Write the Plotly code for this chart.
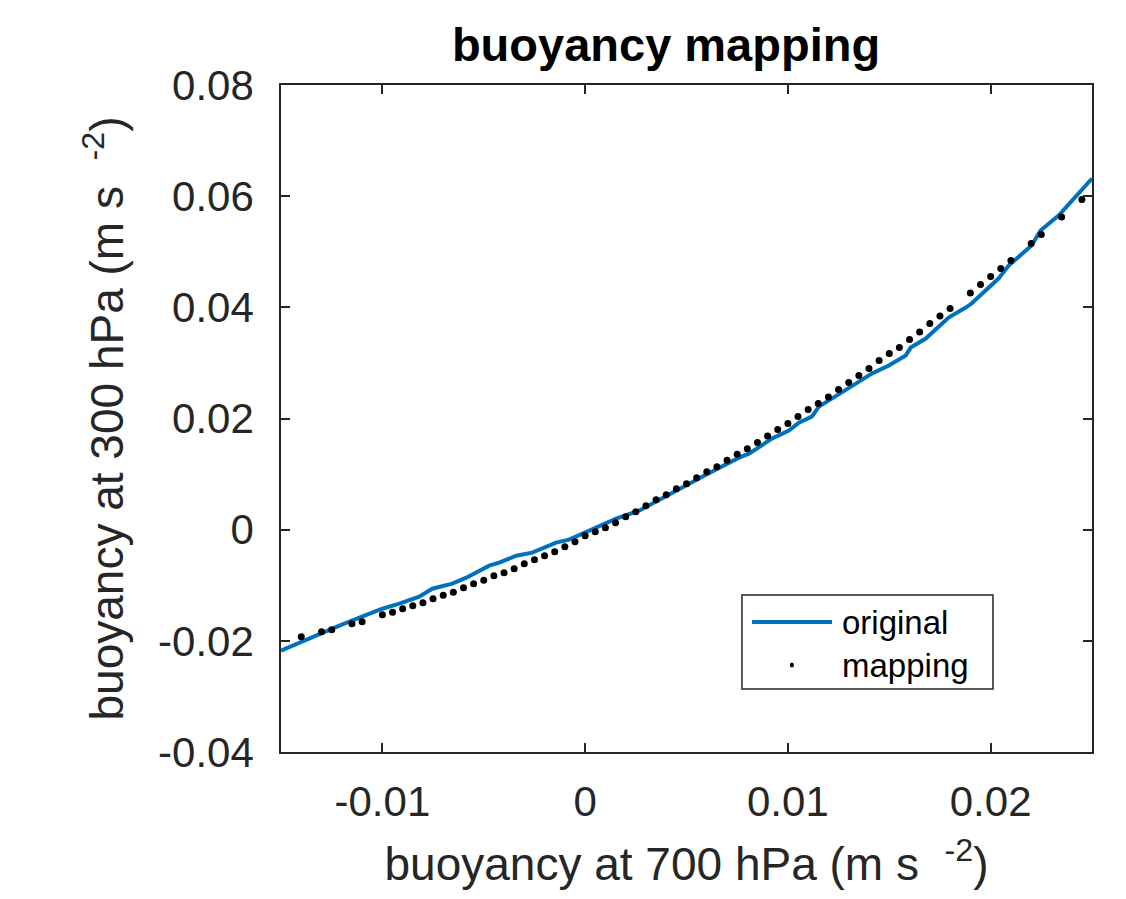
import plotly.graph_objects as go

# Original buoyancy relation (700 hPa -> 300 hPa), m s^-2
orig_b700 = [-0.015, -0.01409, -0.0131, -0.01212, -0.01113, -0.0100, -0.00916, -0.00818,
             -0.00754, -0.00655, -0.00586, -0.00473, -0.00424, -0.0034, -0.00261, -0.00143,
             -0.00079, 0.00054, 0.00153, 0.00266, 0.00429, 0.00596, 0.00759, 0.00808,
             0.00921, 0.01005, 0.01054, 0.01118, 0.01153, 0.01251, 0.01335, 0.01414,
             0.01498, 0.01581, 0.01606, 0.0168, 0.01793, 0.01877, 0.01906, 0.01975,
             0.02039, 0.02089, 0.02202, 0.02246, 0.02335, 0.025]
orig_b300 = [-0.02178, -0.02034, -0.01872, -0.01728, -0.01584, -0.01422, -0.01332, -0.01206,
             -0.01062, -0.00972, -0.00864, -0.00648, -0.00594, -0.00468, -0.00414, -0.00234,
             -0.0018, 0.00036, 0.00198, 0.00342, 0.00666, 0.0099, 0.01296, 0.01368,
             0.01638, 0.01782, 0.01926, 0.02034, 0.02214, 0.02448, 0.02628, 0.02808,
             0.02952, 0.03132, 0.03276, 0.03438, 0.03816, 0.03996, 0.04068, 0.04302,
             0.04518, 0.04752, 0.05112, 0.05382, 0.05652, 0.06318]

# Mapped values
map_b700 = [-0.014, -0.013, -0.0125, -0.0115, -0.011, -0.010, -0.0095, -0.009, -0.0085,
            -0.008, -0.0075, -0.007, -0.0065, -0.006, -0.0055, -0.005, -0.0045, -0.004,
            -0.0035, -0.003, -0.0025, -0.002, -0.0015, -0.001, -0.0005, 0.0, 0.0005,
            0.001, 0.0015, 0.002, 0.0025, 0.003, 0.0035, 0.004, 0.0045, 0.005, 0.0055,
            0.006, 0.0065, 0.007, 0.0075, 0.008, 0.0085, 0.009, 0.0095, 0.010, 0.0105,
            0.011, 0.0115, 0.012, 0.0125, 0.013, 0.0135, 0.014, 0.0145, 0.015, 0.0155,
            0.016, 0.0165, 0.017, 0.0175, 0.018, 0.019, 0.0195, 0.020, 0.0205, 0.021,
            0.022, 0.0225, 0.0235, 0.0245]
map_b300 = [-0.01926, -0.01836, -0.0180, -0.01692, -0.01656, -0.0153, -0.01485, -0.01422,
            -0.01368, -0.01314, -0.01242, -0.01179, -0.01125, -0.01044, -0.00972, -0.00909,
            -0.00828, -0.00774, -0.00702, -0.00612, -0.0054, -0.00468, -0.00396, -0.00306,
            -0.00216, -0.00108, -0.00036, 0.00036, 0.00126, 0.00234, 0.00324, 0.00432,
            0.0054, 0.0063, 0.00738, 0.00828, 0.00936, 0.01044, 0.01134, 0.01251, 0.01359,
            0.01458, 0.01566, 0.01683, 0.018, 0.01908, 0.02034, 0.0216, 0.02268, 0.02385,
            0.0252, 0.02646, 0.02772, 0.02898, 0.03042, 0.03168, 0.03276, 0.0342, 0.03555,
            0.03708, 0.03843, 0.03978, 0.04257, 0.0441, 0.04554, 0.04698, 0.04842, 0.05148,
            0.0531, 0.05625, 0.0594]

x_ticks = [-0.01, 0, 0.01, 0.02]
x_tick_text = ["-0.01", "0", "0.01", "0.02"]
y_ticks = [-0.04, -0.02, 0, 0.02, 0.04, 0.06, 0.08]
y_tick_text = ["-0.04", "-0.02", "0", "0.02", "0.04", "0.06", "0.08"]

BLUE = "#0072BD"
AX = "#262626"
FONT = "Liberation Sans, Arial, Helvetica, sans-serif"
TICK_SIZE = 42
LABEL_SIZE = 46

fig = go.Figure()
fig.add_trace(go.Scatter(x=orig_b700, y=orig_b300, mode="lines", name="original",
                         line=dict(color=BLUE, width=4)))
fig.add_trace(go.Scatter(x=map_b700, y=map_b300, mode="markers", name="mapping",
                         marker=dict(color="black", size=7)))

axis_common = dict(showline=True, mirror="ticks", linecolor=AX, linewidth=1.5,
                   ticks="inside", ticklen=9, tickwidth=1.5, tickcolor=AX,
                   showgrid=False, zeroline=False,
                   tickfont=dict(family=FONT, size=TICK_SIZE, color=AX))

fig.update_xaxes(range=[-0.015, 0.025], tickvals=x_ticks, ticktext=x_tick_text,
                 ticklabelstandoff=12,
                 title=dict(text="buoyancy at 700 hPa (m s  <sup>-2</sup>)",
                            font=dict(family=FONT, size=LABEL_SIZE, color=AX), standoff=24),
                 **axis_common)
fig.update_yaxes(range=[-0.04, 0.08], tickvals=y_ticks, ticktext=y_tick_text,
                 ticklabelstandoff=17,
                 title=dict(text="buoyancy at 300 hPa (m s  <sup>-2</sup>)",
                            font=dict(family=FONT, size=LABEL_SIZE, color=AX), standoff=20),
                 **axis_common)

# Legend box drawn in paper coordinates
lx0, lx1, ly0, ly1 = 0.5684, 0.8779, 0.0945, 0.2354
fig.add_shape(type="rect", xref="paper", yref="paper", x0=lx0, x1=lx1, y0=ly0, y1=ly1,
              line=dict(color=AX, width=1.5), fillcolor="white", layer="above")
fig.add_shape(type="line", xref="paper", yref="paper", x0=0.5808, x1=0.6794,
              y0=0.1949, y1=0.1949, line=dict(color=BLUE, width=4), layer="above")
fig.add_shape(type="circle", xref="paper", yref="paper", x0=0.6275, x1=0.6325,
              y0=0.1304 - 0.0038, y1=0.1304 + 0.0038, line=dict(color="black", width=0),
              fillcolor="black", layer="above")
for label, yy in (("original", 0.1949), ("mapping", 0.1304)):
    fig.add_annotation(xref="paper", yref="paper", x=0.6893, y=yy, text=label,
                       showarrow=False, xanchor="left", yanchor="middle",
                       font=dict(family=FONT, size=33, color="black"))

fig.update_layout(
    width=1126, height=899,
    margin=dict(l=281, r=34, t=85, b=147, autoexpand=False),
    paper_bgcolor="white", plot_bgcolor="white",
    showlegend=False,
    title=dict(text="<b>buoyancy mapping</b>", xref="container", yref="container",
               x=0.5915, y=0.95, xanchor="center", yanchor="middle",
               font=dict(family=FONT, size=47, color="black")),
)

fig.write_html("out.html")
